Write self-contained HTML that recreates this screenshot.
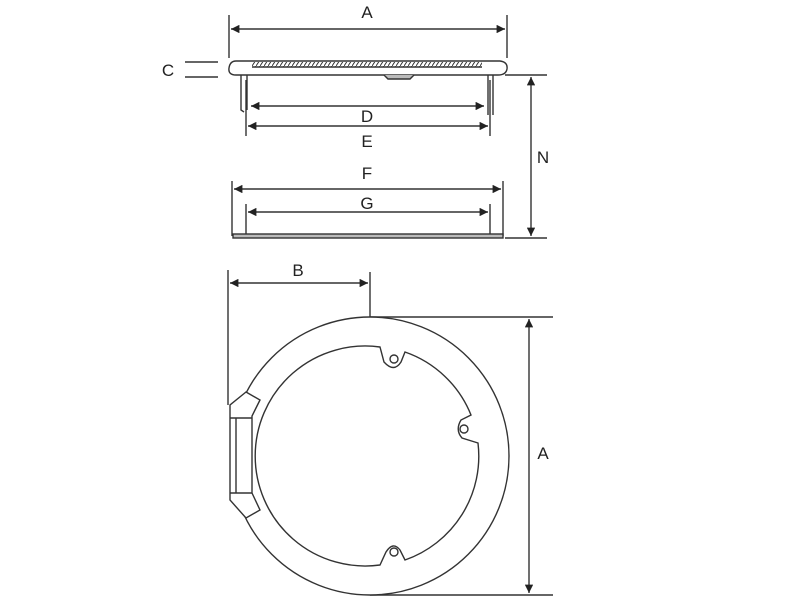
<!DOCTYPE html>
<html><head><style>body{margin:0;background:#fff}svg{display:block}text{font-family:"Liberation Sans",sans-serif;font-size:17px;fill:#222;text-anchor:middle}</style></head>
<body>
<svg width="800" height="600" viewBox="0 0 800 600" xmlns="http://www.w3.org/2000/svg">
<defs>
<marker id="a" viewBox="0 0 10 10" refX="10" refY="5" markerWidth="8" markerHeight="6" orient="auto-start-reverse"><path d="M0,0L10,5L0,10z" fill="#222"/></marker>
<pattern id="h" width="4" height="6" patternUnits="userSpaceOnUse"><path d="M0,6L4,0" stroke="#333" stroke-width="1"/></pattern>
</defs>
<g stroke="#333" stroke-width="1.4" fill="none">
<line x1="229" y1="15" x2="229" y2="58"/><line x1="507" y1="15" x2="507" y2="58"/>
<line x1="231" y1="29" x2="505" y2="29" marker-start="url(#a)" marker-end="url(#a)"/>
<line x1="185" y1="62" x2="218" y2="62"/><line x1="185" y1="77" x2="218" y2="77"/>
<path d="M236,61 L500,61 Q508,62 507,69 Q506,75 498,75 L236,75 Q228,75 229,68 Q230,61 236,61z" fill="#fff"/>
<rect x="252" y="62" width="230" height="5" fill="url(#h)" stroke="none"/>
<line x1="252" y1="67" x2="482" y2="67"/>
<path d="M384,75 L388,79 L410,79 L414,75" fill="#bbb"/>
<path d="M241,75 L241,110 L244,112 M247,75 L247,110" />
<path d="M488,75 L488,115 M493,75 L493,115"/>
<line x1="505" y1="75" x2="547" y2="75"/><line x1="505" y1="238" x2="547" y2="238"/>
<line x1="531" y1="77" x2="531" y2="236" marker-start="url(#a)" marker-end="url(#a)"/>
<line x1="246" y1="80" x2="246" y2="136"/><line x1="490" y1="80" x2="490" y2="136"/>
<line x1="251" y1="106" x2="484" y2="106" marker-start="url(#a)" marker-end="url(#a)"/>
<line x1="248" y1="126" x2="488" y2="126" marker-start="url(#a)" marker-end="url(#a)"/>
<line x1="232" y1="181" x2="232" y2="236"/><line x1="503" y1="181" x2="503" y2="236"/>
<line x1="234" y1="189" x2="501" y2="189" marker-start="url(#a)" marker-end="url(#a)"/>
<line x1="246" y1="204" x2="246" y2="234"/><line x1="490" y1="204" x2="490" y2="234"/>
<line x1="248" y1="212" x2="488" y2="212" marker-start="url(#a)" marker-end="url(#a)"/>
<rect x="233" y="234" width="270" height="4" fill="#bbb"/>
<line x1="228" y1="270" x2="228" y2="405"/><line x1="370" y1="272" x2="370" y2="317"/>
<line x1="230" y1="283" x2="368" y2="283" marker-start="url(#a)" marker-end="url(#a)"/>
<line x1="370" y1="317" x2="553" y2="317"/><line x1="370" y1="595" x2="553" y2="595"/>
<line x1="529" y1="319" x2="529" y2="593" marker-start="url(#a)" marker-end="url(#a)"/>
<circle cx="370" cy="456" r="139" fill="#fff"/>
<path d="M380,347 L384,362 Q394,373 401,362 L405,352 A110,110 0 0 1 471,415 L461,420 Q455,430 462,438 L478,443 A110,110 0 0 1 405,560 L400,550 Q393,541 386,552 L380,565 A110,110 0 1 1 380,347 Z" fill="#fff"/>
<circle cx="394" cy="359" r="4"/><circle cx="464" cy="429" r="4"/><circle cx="394" cy="552" r="4"/>
<path d="M246,392 L230,405 L230,500 L246,518 L260,510 L252,493 L252,416 L260,400 Z" fill="#fff"/>
<path d="M230,418 L252,418 M230,493 L252,493 M236,418 L236,493"/>
</g>
<text x="367" y="18">A</text>
<text x="168" y="76">C</text>
<text x="367" y="122">D</text>
<text x="367" y="147">E</text>
<text x="543" y="163">N</text>
<text x="367" y="179">F</text>
<text x="367" y="209">G</text>
<text x="298" y="276">B</text>
<text x="543" y="459">A</text>
</svg>
</body></html>
